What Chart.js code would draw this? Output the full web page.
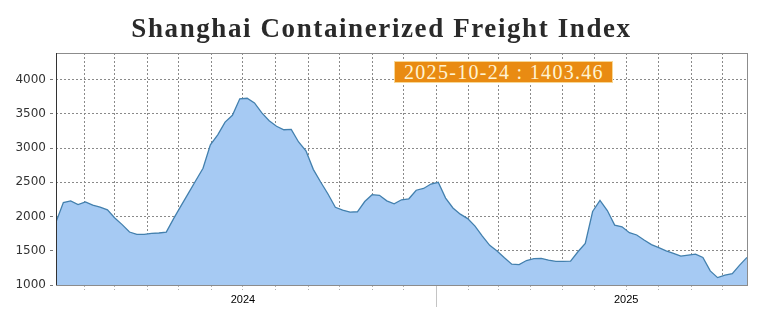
<!DOCTYPE html>
<html>
<head>
<meta charset="utf-8">
<title>Shanghai Containerized Freight Index</title>
<script src="https://cdn.jsdelivr.net/npm/chart.js@4.4.0/dist/chart.umd.min.js"></script>
<style>
  html, body { margin: 0; padding: 0; background: #fff; }
  #wrap { position: relative; width: 772px; height: 335px; overflow: hidden; }
  #title {
    position: absolute; left: 0; top: 8px; width: 763px;
    text-align: center; white-space: nowrap;
    font: bold 27px "Liberation Serif", serif; color: #2a2a2a;
    line-height: 40px; letter-spacing: 1.6px;
  }
  #tip {
    position: absolute; left: 394px; top: 61px; width: 219px; height: 22px;
    box-sizing: border-box; background: #e98b12; border: 1px solid #f7d795;
    overflow: hidden; white-space: nowrap;
  }
  #tip span {
    display: inline-block; margin-left: 9px;
    font: 20px "Liberation Serif", serif; letter-spacing: 1.3px;
    color: #fff4d2; line-height: 20px;
  }
</style>
</head>
<body>
<div id="wrap">
  <canvas id="scfi-chart"></canvas>
  <div id="title">Shanghai Containerized Freight Index</div>
  <div id="tip"><span id="tip-text"></span></div>
</div>
<script>
// weekly index values, first week 2024-01-05
const startDate = '2024-01-05';
const scfi = [
  1921, 2205, 2230, 2176, 2215, 2166, 2137, 2098, 1980, 1882,
  1774, 1740, 1740, 1755, 1760, 1774, 1970, 2156, 2338, 2524,
  2705, 3048, 3195, 3381, 3480, 3720, 3729, 3660, 3515, 3400,
  3320, 3269, 3275, 3090, 2960, 2690, 2505, 2330, 2135, 2095,
  2066, 2070, 2220, 2320, 2310, 2230, 2185, 2245, 2260, 2385,
  2410, 2475, 2500, 2270, 2125, 2035, 1970, 1860, 1715, 1580,
  1496, 1398, 1305, 1298, 1358, 1385, 1390, 1365, 1344, 1344,
  1348, 1486, 1608, 2074, 2235, 2088, 1875, 1850, 1765, 1731,
  1657, 1590, 1545, 1500, 1461, 1422, 1437, 1451, 1402, 1206,
  1108, 1143, 1167, 1290, 1403.46
];

// axis ticks
const yTicks = [1000, 1500, 2000, 2500, 3000, 3500, 4000];
const monthStarts = [
  '2024-02-01', '2024-03-01', '2024-04-01', '2024-05-01', '2024-06-01', '2024-07-01',
  '2024-08-01', '2024-09-01', '2024-10-01', '2024-11-01', '2024-12-01', '2025-01-01',
  '2025-02-01', '2025-03-01', '2025-04-01', '2025-05-01', '2025-06-01', '2025-07-01',
  '2025-08-01', '2025-09-01', '2025-10-01'
];
const yearLabels = { '2024-07-01': '2024', '2025-07-01': '2025' };
const yearStart = '2025-01-01';

const DAY = 86400000;
const dayOf = s => Date.parse(s + 'T00:00:00Z') / DAY;
const dateOf = d => new Date(d * DAY).toISOString().slice(0, 10);

const firstDay = dayOf(startDate);
const points = scfi.map((v, i) => ({ x: firstDay + 7 * i, y: v }));
const lastPoint = points[points.length - 1];

document.getElementById('tip-text').textContent =
  dateOf(lastPoint.x) + ' : ' + lastPoint.y.toFixed(2);

// plot frame + long tick at the year change
const framePlugin = {
  id: 'frame',
  afterDatasetsDraw(chart) {
    const { ctx, chartArea: a, scales } = chart;
    ctx.save();
    ctx.lineWidth = 1;
    ctx.strokeStyle = '#8c8c8c';
    ctx.strokeRect(Math.round(a.left) + 0.5, Math.round(a.top) + 0.5,
      Math.round(a.right - a.left), Math.round(a.bottom - a.top));
    ctx.strokeStyle = '#333';
    ctx.beginPath();
    ctx.moveTo(Math.round(a.left) + 0.5, a.top);
    ctx.lineTo(Math.round(a.left) + 0.5, a.bottom);
    ctx.stroke();
    const px = Math.round(scales.x.getPixelForValue(dayOf(yearStart))) + 0.5;
    ctx.strokeStyle = '#c4c4c4';
    ctx.beginPath();
    ctx.moveTo(px, a.bottom + 1);
    ctx.lineTo(px, a.bottom + 22);
    ctx.stroke();
    ctx.restore();
  }
};

new Chart(document.getElementById('scfi-chart'), {
  type: 'line',
  data: {
    datasets: [{
      data: points,
      borderColor: '#4380ae',
      backgroundColor: '#a6caf3',
      borderWidth: 1.3,
      fill: 'start',
      pointRadius: 0,
      tension: 0,
    }],
  },
  options: {
    responsive: true,
    maintainAspectRatio: false,
    animation: false,
    layout: { padding: { top: 53, right: 25, left: 0, bottom: 0 } },
    plugins: {
      legend: { display: false },
      title: { display: false },
      tooltip: { enabled: false },
    },
    scales: {
      x: {
        type: 'linear',
        min: firstDay,
        max: lastPoint.x,
        afterBuildTicks: scale => {
          scale.ticks = monthStarts.map(s => ({ value: dayOf(s) }));
        },
        afterFit: scale => { scale.height = 50; },
        ticks: {
          autoSkip: false,
          maxRotation: 0,
          padding: 3,
          color: '#000',
          font: { family: 'Liberation Sans', size: 11 },
          callback: value => yearLabels[dateOf(value)] || '',
        },
        grid: {
          color: '#8a8a8a',
          tickColor: '#b0b0b0',
          tickLength: 5,
          tickBorderDash: [2, 2],
        },
        border: { display: false, dash: [2, 2] },
      },
      y: {
        min: 1000,
        max: 4390,
        afterBuildTicks: scale => {
          scale.ticks = yTicks.map(v => ({ value: v }));
        },
        afterFit: scale => { scale.width = 56; },
        ticks: {
          padding: 4,
          color: '#333',
          font: { family: 'DejaVu Sans', size: 12 },
          callback: value => String(value),
        },
        grid: {
          color: '#8a8a8a',
          tickColor: '#777',
          tickLength: 6,
          tickBorderDash: [3, 3],
        },
        border: { display: false, dash: [2, 2] },
      },
    },
  },
  plugins: [framePlugin],
});
</script>
</body>
</html>
